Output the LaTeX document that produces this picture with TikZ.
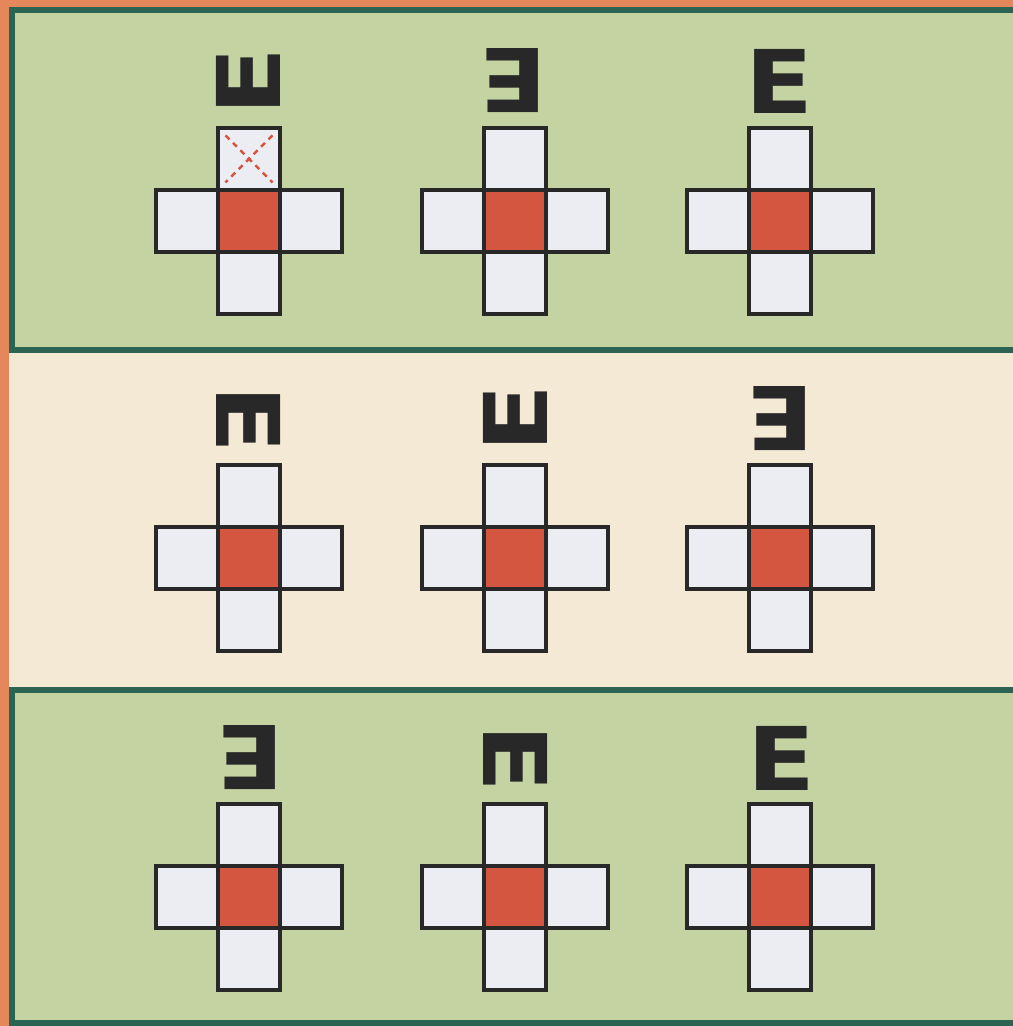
\documentclass[tikz,border=0pt]{standalone}
\usepackage{fontspec}
\usepackage{tikz}
\usetikzlibrary{positioning}
\usepackage{xcolor}
\newfontfamily\optofont{DejaVu Sans}
\definecolor{paneltop}{RGB}{196,211,161}
\definecolor{panelmid}{RGB}{243,233,212}
\definecolor{frameteal}{RGB}{44,100,84}
\definecolor{edgeorange}{RGB}{228,136,92}
\definecolor{centrered}{RGB}{212,86,64}
\definecolor{cellwhite}{RGB}{236,237,243}
\definecolor{inkgrey}{RGB}{40,40,40}

\begin{document}
\begin{tikzpicture}[x=0.01cm,y=-0.01cm,
  cell/.style={draw=inkgrey,fill=cellwhite,line width=1pt,minimum size=0.62cm,inner sep=0pt,outer sep=0pt},
  optotype/.style={font=\optofont\bfseries\fontsize{25}{25}\selectfont,text=inkgrey,inner sep=0pt},
  panelline/.style={draw=frameteal,line width=1.7pt}]
\useasboundingbox (0,0) rectangle (1013,1026);
\fill[edgeorange] (0,0) rectangle (1013,1026);
\fill[paneltop] (12,10) rectangle (1013,350);
\fill[panelmid] (9,350) rectangle (1013,690);
\fill[paneltop] (12,690) rectangle (1013,1023);
\draw[panelline] (1013,10) -- (12,10) -- (12,350) -- (1013,350);
\draw[panelline] (1013,690) -- (12,690) -- (12,1023) -- (1013,1023);
\foreach \r/\y in {1/221,2/558,3/897}
  \foreach \c/\x in {1/249,2/515,3/780} {
    \node[cell,fill=centrered] (m\r\c) at (\x,\y) {};
    \node[cell,above=0pt of m\r\c] (t\r\c) {};
    \node[cell,below=0pt of m\r\c] (b\r\c) {};
    \node[cell,left=0pt of m\r\c] (l\r\c) {};
    \node[cell,right=0pt of m\r\c] (r\r\c) {};
  }
\draw[centrered,line width=0.7pt,dash pattern=on 1.6pt off 1.4pt,shorten <=3pt,shorten >=3pt] (t11.north west) -- (t11.south east);
\draw[centrered,line width=0.7pt,dash pattern=on 1.6pt off 1.4pt,shorten <=3pt,shorten >=3pt] (t11.north east) -- (t11.south west);
\foreach \n/\x/\y/\a in {e11/248/82/90,e12/514/81/180,e13/779/81/0,
                         e21/249/419/270,e22/515/419/90,e23/781/419/180,
                         e31/251/758/180,e32/516/758/270,e33/781/758/0}
  \node[optotype,rotate=\a] (\n) at (\x,\y) {\scalebox{1.13}[1]{E}};
\end{tikzpicture}
\end{document}
